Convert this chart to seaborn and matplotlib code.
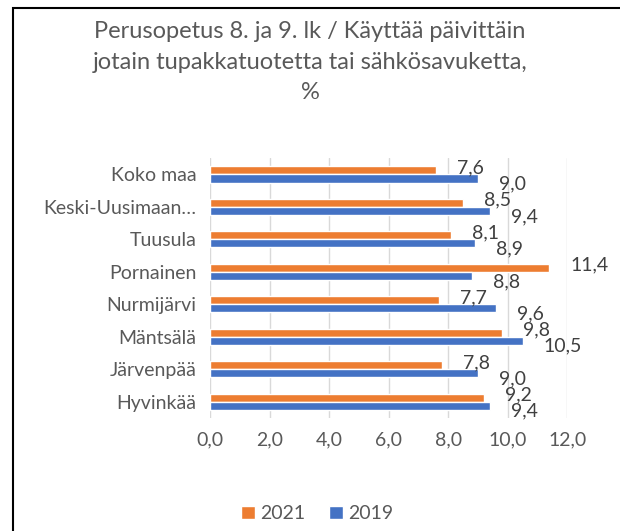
import seaborn as sns
import matplotlib.pyplot as plt
import pandas as pd
from matplotlib.patches import Rectangle

areas = ["Koko maa", "Keski-Uusimaan…", "Tuusula", "Pornainen",
         "Nurmijärvi", "Mäntsälä", "Järvenpää", "Hyvinkää"]
v2021 = [7.6, 8.5, 8.1, 11.4, 7.7, 9.8, 7.8, 9.2]
v2019 = [9.0, 9.4, 8.9, 8.8, 9.6, 10.5, 9.0, 9.4]
years = ["2021", "2019"]
xticks = [0, 2, 4, 6, 8, 10, 12]

df = pd.DataFrame({
    "alue": areas * 2,
    "vuosi": ["2021"] * len(areas) + ["2019"] * len(areas),
    "arvo": v2021 + v2019,
})

sns.set_theme(style="white")
plt.rcParams["font.family"] = ["Lato", "DejaVu Sans"]
txt = "#595959"

fig = plt.figure(figsize=(6.2, 5.31), dpi=100)
ax = fig.add_axes([0.339, 0.213, 0.576, 0.489])

sns.barplot(data=df, y="alue", x="arvo", hue="vuosi", hue_order=years,
            order=areas, orient="h", width=0.5,
            palette={"2021": "#ED7D31", "2019": "#4472C4"},
            saturation=1, ax=ax, legend=True)

# Excel style data labels, pushed a little right of the bar ends
for cont, dy in zip(ax.containers, [2, -4]):
    for b in cont:
        w = b.get_width()
        ax.annotate(f"{w:.1f}".replace(".", ","),
                    (w, b.get_y() + b.get_height() / 2),
                    xytext=(15, dy), textcoords="offset points",
                    ha="left", va="center", fontsize=14, color="#404040")

ax.set_xlim(0, 12)
ax.set_xticks(xticks)
ax.set_xticklabels([f"{t:.1f}".replace(".", ",") for t in xticks])
ax.grid(axis="x", color="#D9D9D9", linewidth=1)
ax.set_axisbelow(True)
for s in ax.spines.values():
    s.set_visible(False)
ax.tick_params(axis="both", length=0, labelsize=14, labelcolor=txt)
ax.tick_params(axis="x", pad=10)
ax.tick_params(axis="y", pad=10)
ax.set_xlabel("")
ax.set_ylabel("")

h, l = ax.get_legend_handles_labels()
ax.legend(h, l, loc="center", bbox_to_anchor=(0.3, -0.37), ncol=2,
          frameon=False, fontsize=14, handlelength=0.7, handleheight=0.7,
          columnspacing=1.2, handletextpad=0.3, labelcolor=txt)

fig.text(0.5, 0.96,
         "Perusopetus 8. ja 9. lk / Käyttää päivittäin\n"
         "jotain tupakkatuotetta tai sähkösavuketta,\n%",
         ha="center", va="top", fontsize=17, color=txt, linespacing=1.55)

fig.patches.append(Rectangle((0.021, -0.01), 1.0, 0.995, transform=fig.transFigure,
                             fill=False, edgecolor="#000000", linewidth=1.5))

fig.savefig("out.png", dpi=100)
